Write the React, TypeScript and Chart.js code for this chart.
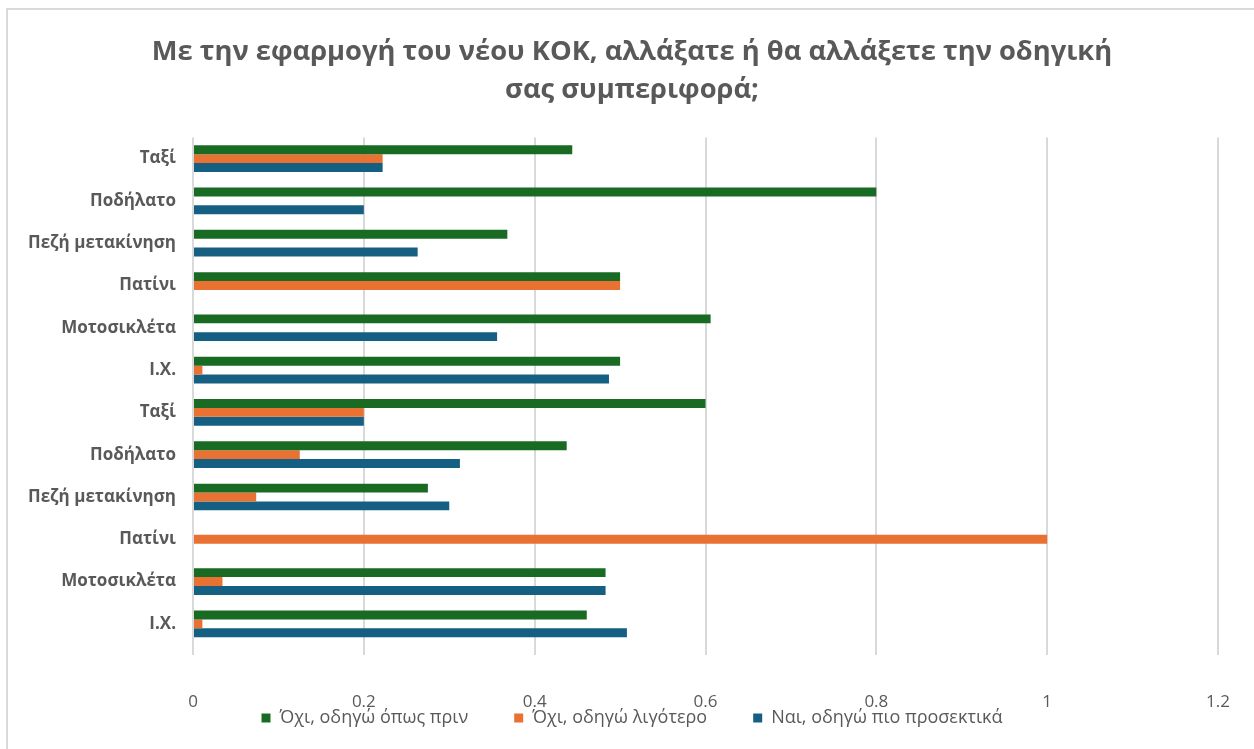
import React, { useEffect, useRef } from "react";
import { Chart, registerables } from "chart.js";

Chart.register(...registerables);

const categories = [
  "Ταξί",
  "Ποδήλατο",
  "Πεζή μετακίνηση",
  "Πατίνι",
  "Μοτοσικλέτα",
  "Ι.Χ.",
  "Ταξί",
  "Ποδήλατο",
  "Πεζή μετακίνηση",
  "Πατίνι",
  "Μοτοσικλέτα",
  "Ι.Χ.",
];

const seriesNames = ["Όχι, οδηγώ όπως πριν", "Όχι, οδηγώ λιγότερο", "Ναι, οδηγώ πιο προσεκτικά"];

const sameAsBefore = [0.444, 0.8, 0.368, 0.5, 0.606, 0.5, 0.6, 0.4375, 0.275, 0, 0.483, 0.461];
const drivingLess = [0.222, 0, 0, 0.5, 0, 0.011, 0.2, 0.125, 0.074, 1, 0.0345, 0.011];
const moreCareful = [0.222, 0.2, 0.263, 0, 0.356, 0.487, 0.2, 0.3125, 0.3, 0, 0.483, 0.508];

const xTicks = [0, 0.2, 0.4, 0.6, 0.8, 1, 1.2];

const titleLines = [
  "Με την εφαρμογή του νέου ΚΟΚ, αλλάξατε ή θα αλλάξετε την οδηγική",
  "σας συμπεριφορά;",
];

const colors = ["#196B24", "#E97132", "#156082"];
const textColor = "#595959";
const fontFamily = "'Open Sans', 'Noto Sans', 'DejaVu Sans', sans-serif";

export default function App() {
  const ref = useRef<HTMLCanvasElement | null>(null);

  useEffect(() => {
    if (!ref.current) return;
    const values = [sameAsBefore, drivingLess, moreCareful];
    const chart = new Chart(ref.current, {
      type: "bar",
      data: {
        labels: categories,
        datasets: seriesNames.map((name, i) => ({
          label: name,
          data: values[i],
          backgroundColor: colors[i],
          borderWidth: 0,
          barPercentage: 1,
          categoryPercentage: 0.63,
          yAxisID: "y",
        })),
      },
      options: {
        indexAxis: "y",
        animation: false,
        responsive: false,
        maintainAspectRatio: false,
        layout: { padding: { left: 0, right: 0, top: 22, bottom: 12 } },
        plugins: {
          title: {
            display: true,
            text: titleLines,
            color: textColor,
            font: { family: fontFamily, size: 27.3, weight: "bold", lineHeight: 1.4 },
            padding: { top: 11, bottom: 28 },
          },
          legend: {
            position: "bottom",
            labels: {
              color: textColor,
              font: { family: fontFamily, size: 18 },
              boxWidth: 9,
              boxHeight: 9,
              padding: 46,
            },
          },
          tooltip: { enabled: false },
        },
        scales: {
          x: {
            min: 0,
            max: 1.2,
            afterBuildTicks: (axis: any) => {
              axis.ticks = xTicks.map((v) => ({ value: v }));
            },
            afterFit: (axis: any) => {
              axis.height = 18;
            },
            ticks: {
              color: textColor,
              font: { family: fontFamily, size: 17 },
              mirror: true,
              padding: -67,
              callback: (v: any) => String(Number(v)),
            },
            grid: {
              color: "#d9d9d9",
              lineWidth: 2,
              drawTicks: true,
              tickLength: 10,
            },
            border: { display: false },
          },
          y: {
            position: "left",
            afterFit: (axis: any) => {
              axis.width = 193;
            },
            ticks: {
              color: textColor,
              font: { family: fontFamily, size: 17, weight: "bold" },
              padding: 9,
            },
            grid: { display: false },
            border: { display: false },
          },
          yRight: {
            type: "category",
            position: "right",
            afterFit: (axis: any) => {
              axis.width = 46;
            },
            ticks: { display: false },
            grid: { display: false, drawTicks: false },
            border: { display: false },
          },
        },
      },
    });
    return () => chart.destroy();
  }, []);

  return (
    <div
      style={{
        position: "fixed",
        left: 0,
        top: 0,
        width: 1254,
        height: 749,
        background: "#fff",
        overflow: "hidden",
      }}
    >
      <canvas ref={ref} width={1264} height={749} style={{ display: "block" }} />
      <div
        style={{
          position: "absolute",
          left: 6,
          top: 8,
          width: 1400,
          height: 900,
          borderLeft: "2px solid #d9d9d9",
          borderTop: "2px solid #d9d9d9",
          pointerEvents: "none",
        }}
      />
    </div>
  );
}
